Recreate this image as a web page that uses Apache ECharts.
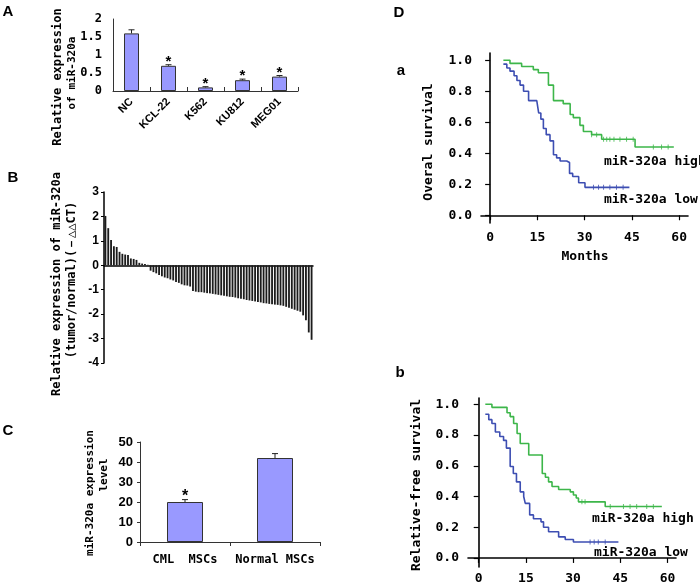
<!DOCTYPE html>
<html>
<head>
<meta charset="utf-8">
<title>miR-320a</title>
<script src="https://cdn.jsdelivr.net/npm/echarts@6/dist/echarts.min.js"></script>
<style>
  html, body { margin: 0; padding: 0; background: #fff; }
  #chart { width: 700px; height: 584px; }
</style>
</head>
<body>
<div id="chart"></div>
<script>
// panel A
const cellLines = ["NC", "KCL-22", "K562", "KU812", "MEG01"];
const cellExpr = [1.6, 0.7, 0.1, 0.3, 0.4];
const cellErr = [0.1, 0.03, 0.02, 0.03, 0.03];
const cellSig = [0, 1, 1, 1, 1];

// panel B (tumor/normal, -ddCT), one bar per patient
const patientExpr = [
  2.02, 1.52, 1.04, 0.78, 0.75, 0.55, 0.47, 0.44, 0.42, 0.28, 0.26, 0.22, 0.1, 0.07, 0.05, 0.02,
  -0.22, -0.28, -0.33, -0.4, -0.45, -0.5, -0.53, -0.58, -0.62, -0.68, -0.72, -0.78, -0.82, -0.83,
  -0.87, -1.05, -1.08, -1.1, -1.1, -1.12, -1.14, -1.15, -1.17, -1.19, -1.21, -1.23, -1.25, -1.27,
  -1.29, -1.3, -1.32, -1.35, -1.37, -1.39, -1.42, -1.44, -1.46, -1.48, -1.5, -1.52, -1.55, -1.56,
  -1.58, -1.6, -1.61, -1.62, -1.64, -1.66, -1.7, -1.74, -1.78, -1.82, -1.86, -1.9, -2.05, -2.25,
  -2.75, -3.05
];

// panel C
const mscGroups = ["CML  MSCs", "Normal MSCs"];
const mscExpr = [20, 42];
const mscErr = [1.2, 2.2];
const mscSig = [1, 0];

// panel D a: overall survival [months, survival]
const osHigh = [[4.2, 1.0], [6.3, 0.98], [10.0, 0.96], [13.7, 0.94], [15.3, 0.92], [18.5, 0.84], [20.1, 0.74],
  [23.2, 0.72], [25.4, 0.65], [26.4, 0.63], [28.5, 0.58], [29.6, 0.54], [32.2, 0.52], [35.4, 0.49],
  [46.0, 0.44], [58.3, 0.44]];
const osLow = [[4.2, 0.975], [5.3, 0.95], [6.3, 0.93], [7.6, 0.9], [8.5, 0.87], [9.5, 0.84], [10.6, 0.8],
  [12.2, 0.74], [14.8, 0.73], [15.4, 0.66], [16.1, 0.62], [16.9, 0.56], [17.8, 0.52], [19.0, 0.48],
  [20.1, 0.39], [21.1, 0.37], [22.2, 0.35], [24.3, 0.34], [25.2, 0.27], [26.2, 0.25], [28.1, 0.21],
  [30.1, 0.18], [44.2, 0.18]];
const osHighCens = [[32.2, 0.52], [33.8, 0.52], [36.0, 0.49], [37.0, 0.49], [38.0, 0.49], [39.3, 0.49],
  [41.2, 0.49], [43.3, 0.49], [45.4, 0.49], [51.8, 0.44], [54.4, 0.44], [56.5, 0.44]];
const osLowCens = [[32.8, 0.18], [34.4, 0.18], [36.0, 0.18], [38.0, 0.18], [40.1, 0.18], [42.2, 0.18]];

// panel D b: relapse-free survival
const rfsHigh = [[2.1, 1.0], [4.2, 0.98], [9.0, 0.945], [10.0, 0.92], [11.1, 0.875], [12.2, 0.81], [13.2, 0.745],
  [15.9, 0.67], [20.2, 0.55], [21.2, 0.525], [22.2, 0.495], [23.3, 0.465], [25.4, 0.445], [29.1, 0.43],
  [30.1, 0.41], [31.0, 0.39], [31.7, 0.365], [40.2, 0.335], [58.2, 0.335]];
const rfsLow = [[2.1, 0.935], [3.2, 0.9], [4.2, 0.875], [5.3, 0.82], [6.7, 0.79], [7.9, 0.765], [8.8, 0.715],
  [10.0, 0.595], [11.0, 0.55], [12.0, 0.495], [13.2, 0.43], [14.3, 0.4], [14.8, 0.355], [16.2, 0.28],
  [17.4, 0.255], [19.8, 0.235], [20.6, 0.2], [22.2, 0.17], [25.4, 0.137], [27.5, 0.12], [30.1, 0.104],
  [44.4, 0.104]];
const rfsHighCens = [[32.8, 0.365], [33.8, 0.365], [41.8, 0.335], [46.0, 0.335], [48.1, 0.335], [50.2, 0.335],
  [53.4, 0.335], [55.5, 0.335]];
const rfsLowCens = [[35.4, 0.104], [36.7, 0.104], [38.0, 0.104], [40.2, 0.104]];

const monthTicks = [0, 15, 30, 45, 60];
const survTicks = [0, 0.2, 0.4, 0.6, 0.8, 1.0];

const MONO = '"DejaVu Sans Mono", "Liberation Mono", monospace';
const SANS = '"Liberation Sans", Arial, sans-serif';
const GREEN = "#3db64a";
const BLUE = "#3d4eb2";
const BAR = "#9999ff";

const chart = echarts.init(document.getElementById("chart"), null, { renderer: "canvas" });

// error bar + star drawn through the axis scales
function errorBars(axisIdx, vals, errs, sig, starSize) {
  return {
    type: "custom",
    xAxisIndex: axisIdx,
    yAxisIndex: axisIdx,
    z: 5,
    data: vals.map((v, i) => [i, v, errs[i], sig[i]]),
    renderItem: function (params, api) {
      const i = api.value(0);
      const v = api.value(1);
      const base = api.coord([i, v]);
      const top = api.coord([i, v + api.value(2)]);
      const children = [
        { type: "line", shape: { x1: base[0], y1: base[1], x2: top[0], y2: top[1] }, style: { stroke: "#222", lineWidth: 1 } },
        { type: "line", shape: { x1: top[0] - 3, y1: top[1], x2: top[0] + 3, y2: top[1] }, style: { stroke: "#222", lineWidth: 1 } },
      ];
      if (api.value(3)) {
        children.push({
          type: "text",
          x: top[0],
          y: top[1] - 3,
          style: { text: "*", font: "bold " + starSize + "px " + SANS, textAlign: "center", textVerticalAlign: "middle", fill: "#000" },
        });
      }
      return { type: "group", children: children };
    },
  };
}

function label(text, x, y, font, rotate, align) {
  return {
    type: "text",
    x: x,
    y: y,
    rotation: rotate ? Math.PI / 2 : 0,
    style: { text: text, font: font, fill: "#000", textAlign: align || "center", textVerticalAlign: "middle" },
  };
}

function txt(family, size, extra) {
  return Object.assign({ color: "#000", fontFamily: family, fontWeight: "bold", fontSize: size }, extra || {});
}

const axisBlack = (w) => ({ show: true, lineStyle: { color: "#000", width: w } });

function kmAxes(gridIdx, xMin, xMax, yMin, yMax, xMargin) {
  return {
    x: {
      type: "value", gridIndex: gridIdx, min: xMin, max: xMax,
      axisLine: axisBlack(1.6), splitLine: { show: false },
      axisTick: { show: true, length: 5, customValues: monthTicks, lineStyle: { color: "#000", width: 1.2 } },
      axisLabel: txt(MONO, 13, { customValues: monthTicks, margin: xMargin }),
    },
    y: {
      type: "value", gridIndex: gridIdx, min: yMin, max: yMax,
      axisLine: axisBlack(1.6), splitLine: { show: false },
      axisTick: { show: true, length: 5, customValues: survTicks, lineStyle: { color: "#000", width: 1.2 } },
      axisLabel: txt(MONO, 13, { customValues: survTicks, margin: 9, formatter: (v) => v.toFixed(1) }),
    },
  };
}

function kmLine(axisIdx, data, color) {
  return {
    type: "line", xAxisIndex: axisIdx, yAxisIndex: axisIdx, data: data, step: "end",
    showSymbol: false, symbol: "none", lineStyle: { color: color, width: 1.6 }, silent: true, z: 3,
  };
}

function kmCens(axisIdx, data, color) {
  return {
    type: "scatter", xAxisIndex: axisIdx, yAxisIndex: axisIdx, data: data,
    symbol: "rect", symbolSize: [1, 5], itemStyle: { color: color }, silent: true, z: 4,
  };
}

const kmA = kmAxes(3, -2.9, 62.8, -0.05, 1.047, 8);
const kmB = kmAxes(4, -3.4, 62.7, -0.059, 1.041, 5);

chart.setOption({
  animation: false,
  grid: [
    { left: 113, top: 19, width: 185, height: 72, outerBoundsMode: "none" },
    { left: 104, top: 192, width: 209, height: 171, outerBoundsMode: "none" },
    { left: 140, top: 442, width: 180, height: 100, outerBoundsMode: "none" },
    { left: 481, top: 53, width: 207, height: 170, outerBoundsMode: "none" },
    { left: 468, top: 398, width: 208, height: 169, outerBoundsMode: "none" },
  ],
  xAxis: [
    {
      type: "category", gridIndex: 0, data: cellLines,
      axisLine: { lineStyle: { color: "#333", width: 1 } },
      axisTick: { show: true, inside: true, length: 4, lineStyle: { color: "#333" } },
      axisLabel: txt(SANS, 11, { rotate: 45, margin: 9, interval: 0 }),
    },
    {
      type: "category", gridIndex: 1, data: patientExpr.map((v, i) => i + 1),
      axisLine: { onZero: true, lineStyle: { color: "#000", width: 1.5 } },
      axisTick: { show: false }, axisLabel: { show: false },
    },
    {
      type: "category", gridIndex: 2, data: mscGroups,
      axisLine: { lineStyle: { color: "#333", width: 1 } },
      axisTick: { show: true, length: 4, lineStyle: { color: "#333" } },
      axisLabel: txt(MONO, 12, { margin: 12, interval: 0 }),
    },
    kmA.x,
    kmB.x,
  ],
  yAxis: [
    {
      type: "value", gridIndex: 0, min: 0, max: 2, interval: 0.5,
      axisLine: { show: true, lineStyle: { color: "#333", width: 1 } },
      axisTick: { show: false }, splitLine: { show: false },
      axisLabel: txt(MONO, 12, { margin: 11, formatter: (v) => String(v) }),
    },
    {
      type: "value", gridIndex: 1, min: -4, max: 3, interval: 1,
      axisLine: { show: true, lineStyle: { color: "#000", width: 1.5 } },
      axisTick: { show: true, length: 3, lineStyle: { color: "#000" } }, splitLine: { show: false },
      axisLabel: txt(SANS, 12, { margin: 5 }),
    },
    {
      type: "value", gridIndex: 2, min: 0, max: 50, interval: 10,
      axisLine: { show: true, lineStyle: { color: "#333", width: 1 } },
      axisTick: { show: true, length: 3, lineStyle: { color: "#333" } }, splitLine: { show: false },
      axisLabel: txt(SANS, 13, { margin: 7 }),
    },
    kmA.y,
    kmB.y,
  ],
  series: [
    {
      type: "bar", xAxisIndex: 0, yAxisIndex: 0, data: cellExpr, barWidth: 15,
      itemStyle: { color: BAR, borderColor: "#333", borderWidth: 1 }, silent: true,
    },
    errorBars(0, cellExpr, cellErr, cellSig, 15),
    {
      type: "bar", xAxisIndex: 1, yAxisIndex: 1, data: patientExpr, barCategoryGap: "35%",
      itemStyle: { color: "#1c1c1c" }, silent: true,
    },
    {
      type: "bar", xAxisIndex: 2, yAxisIndex: 2, data: mscExpr, barWidth: 36,
      itemStyle: { color: BAR, borderColor: "#333", borderWidth: 1 }, silent: true,
    },
    errorBars(2, mscExpr, mscErr, mscSig, 16),
    kmLine(3, osHigh, GREEN),
    kmLine(3, osLow, BLUE),
    kmCens(3, osHighCens, GREEN),
    kmCens(3, osLowCens, BLUE),
    kmLine(4, rfsHigh, GREEN),
    kmLine(4, rfsLow, BLUE),
    kmCens(4, rfsHighCens, GREEN),
    kmCens(4, rfsLowCens, BLUE),
  ],
  graphic: [
    label("A", 8, 12, "bold 15px " + SANS),
    label("B", 13, 178, "bold 15px " + SANS),
    label("C", 8, 431, "bold 15px " + SANS),
    label("D", 399, 13, "bold 15px " + SANS),
    label("a", 401, 71, "bold 15px " + SANS),
    label("b", 400, 373, "bold 15px " + SANS),
    label("Relative expression", 58, 77, "bold 12px " + MONO, true),
    label("of miR-320a", 72, 73, "bold 11px " + MONO, true),
    label("Relative expression of miR-320a", 57, 284, "bold 12px " + MONO, true),
    label("(tumor/normal)(－△△CT)", 72, 280, "bold 12px " + MONO, true),
    label("miR-320a expression", 90, 493, "bold 11px " + MONO, true),
    label("level", 104, 475, "bold 11px " + MONO, true),
    label("Overal survival", 429, 142, "bold 13px " + MONO, true),
    label("Months", 585, 257, "bold 13px " + MONO),
    label("Relative-free survival", 417, 485, "bold 13px " + MONO, true),
    label("miR-320a high", 604, 162, "bold 13px " + MONO, false, "left"),
    label("miR-320a low", 604, 200, "bold 13px " + MONO, false, "left"),
    label("miR-320a high", 592, 519, "bold 13px " + MONO, false, "left"),
    label("miR-320a low", 594, 553, "bold 13px " + MONO, false, "left"),
  ],
});
</script>
</body>
</html>
